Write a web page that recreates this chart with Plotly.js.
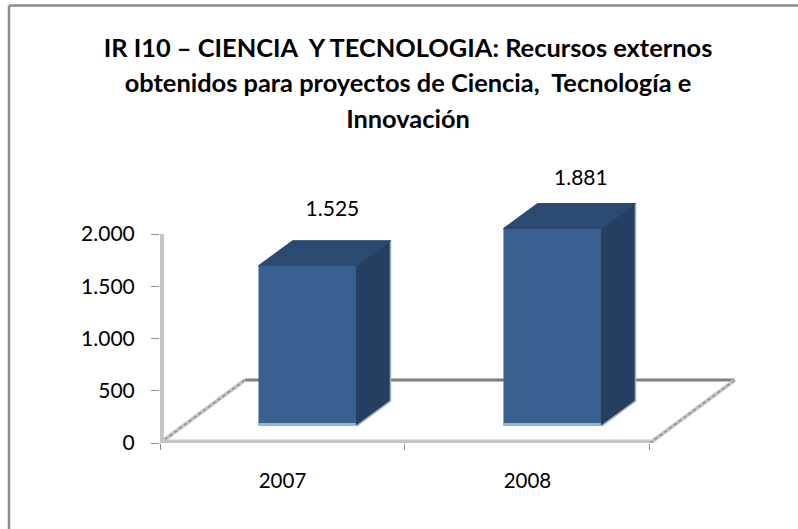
<!DOCTYPE html>
<html>
<head>
<meta charset="utf-8">
<script src="https://cdn.plot.ly/plotly-3.0.1.min.js"></script>
<style>html,body{margin:0;padding:0;background:#fff;}#chart{width:798px;height:529px;}</style>
</head>
<body>
<div id="chart"></div>
<script>
const years = [2007, 2008];
const values = [1525, 1881];
const valueLabels = ['1.525', '1.881'];
const yTickValues = [0, 500, 1000, 1500, 2000];
const yTickLabels = ['0', '500', '1.000', '1.500', '2.000'];
const titleLines = ['IR I10 – CIENCIA  Y TECNOLOGIA: Recursos externos', 'obtenidos para proyectos de Ciencia,  Tecnología e', 'Innovación'];

// Drawing constants for the fake-3D projection, in axis units
const xMin = 2006.5, xEnd = 2008.5, xMax = 2008.888, yMax = 2804;
const floorDx = 0.347, floorDy = 603;
const barDx = 0.139, barDy = 239;
const barLeft = -0.098, barWidth = 0.4;
const barBase = 172, stripHeight = 30;
const labelDx = [0.204, 0.218], labelLift = [695, 636];
const front = '#38618f', top_ = '#2a4a72', side = '#243f60', edge = '#9db2cc';
const plotW = 585, plotH = 293;

const sidesX = [], sidesY = [], topsX = [], topsY = [], edgeX = [], edgeY = [];
years.forEach((yr, i) => {
  const r = yr + barLeft + barWidth, t = values[i] + barBase;
  sidesX.push(r, r + barDx, r + barDx, r, r, null);
  sidesY.push(barBase, barBase + barDy, t + barDy, t, barBase, null);
  topsX.push(r - barWidth, r - barWidth + barDx, r + barDx, r, r - barWidth, null);
  topsY.push(t, t + barDy, t + barDy, t, t, null);
  edgeX.push(r, r + barDx, r + barDx, null);
  edgeY.push(barBase - 10, barBase + barDy - 10, t + barDy, null);
});

const traces = [
  {type:'bar', x:years, y:values, base:values.map(() => barBase), width:barWidth, offset:barLeft,
   marker:{color:front, line:{width:0}}, hoverinfo:'skip'},
  {type:'bar', x:years, y:values.map(() => stripHeight), base:values.map(() => barBase - 10), width:barWidth, offset:barLeft,
   marker:{color:edge, line:{width:0}}, hoverinfo:'skip'},
  {type:'scatter', mode:'lines', x:sidesX, y:sidesY, fill:'toself', fillcolor:side,
   line:{color:side, width:1}, hoverinfo:'skip'},
  {type:'scatter', mode:'lines', x:edgeX, y:edgeY, line:{color:edge, width:1.5}, hoverinfo:'skip'},
  {type:'scatter', mode:'lines', x:topsX, y:topsY, fill:'toself', fillcolor:top_,
   line:{color:top_, width:1}, hoverinfo:'skip'},
  {type:'scatter', mode:'text', x:years.map((y, i) => y + labelDx[i]), y:values.map((v, i) => v + labelLift[i]),
   text:valueLabels, textposition:'middle center', textfont:{family:'Lato, sans-serif', size:21, color:'#000'}, hoverinfo:'skip', cliponaxis:false}
];

function seg(x0, y0, x1, y1, color, width, dash) {
  return {type:'line', xref:'x', yref:'y', x0, y0, x1, y1, layer:'below', line:{color, width, dash:dash || 'solid'}};
}

const shapes = [
  seg(xMin + floorDx, floorDy, xEnd + floorDx, floorDy, '#7f7f7f', 3),
  seg(xMin, 0, xMin + floorDx, floorDy, '#c4c4c4', 4),
  seg(xMin, 0, xMin + floorDx, floorDy, '#8f8f8f', 1.5, 'dot'),
  seg(xEnd, 0, xEnd + floorDx, floorDy, '#c4c4c4', 4),
  seg(xEnd, 0, xEnd + floorDx, floorDy, '#8f8f8f', 1.5, 'dot'),
  seg(xMin, 15, xEnd, 15, '#c4c4c4', 4),
  seg(xMin + 0.008, 0, xMin + 0.008, 2000, '#c4c4c4', 4),
  {type:'line', xref:'paper', yref:'paper', x0:-151/plotW, x1:-151/plotW, y0:-86/plotH, y1:437.5/plotH, layer:'below', line:{color:'#8c8c8c', width:2.5}},
  {type:'line', xref:'paper', yref:'paper', x0:-151/plotW, x1:638/plotW, y0:437.5/plotH, y1:437.5/plotH, layer:'below', line:{color:'#8c8c8c', width:2.5}}
];

const layout = {
  width:798, height:529,
  margin:{l:160, r:53, t:150, b:86, pad:0},
  paper_bgcolor:'#fff', plot_bgcolor:'rgba(0,0,0,0)',
  showlegend:false, barmode:'overlay',
  title:{text:titleLines.map(l => '<span style="font-size:25.4px">' + l + '</span>').join('<br>'), x:408/798, xref:'container', xanchor:'center', y:0.893, yanchor:'top', font:{family:'Lato, sans-serif', size:27.3, color:'#000', weight:'bold'}},
  xaxis:{type:'linear', range:[xMin, xMax], tickmode:'array', tickvals:years, ticktext:years.map(String), ticks:'', showline:false, showgrid:false, zeroline:false,
    tickfont:{family:'Lato, sans-serif', size:20.5, color:'#000'}, ticklabelstandoff:23,
    minor:{tickmode:'array', tickvals:[2006.5, 2007.5, 2008.5], ticks:'outside', ticklen:6, tickcolor:'#8c8c8c', tickwidth:1, showgrid:false}},
  yaxis:{range:[0, yMax], tickmode:'array', tickvals:yTickValues, ticktext:yTickLabels, ticks:'outside', ticklen:8, tickcolor:'#8c8c8c', tickwidth:1,
    showline:false, showgrid:false, zeroline:false, tickfont:{family:'Lato, sans-serif', size:21, color:'#000'}, ticklabelstandoff:12},
  shapes:shapes
};
Plotly.newPlot('chart', traces, layout, {displayModeBar:false, staticPlot:true});
</script>
</body>
</html>
